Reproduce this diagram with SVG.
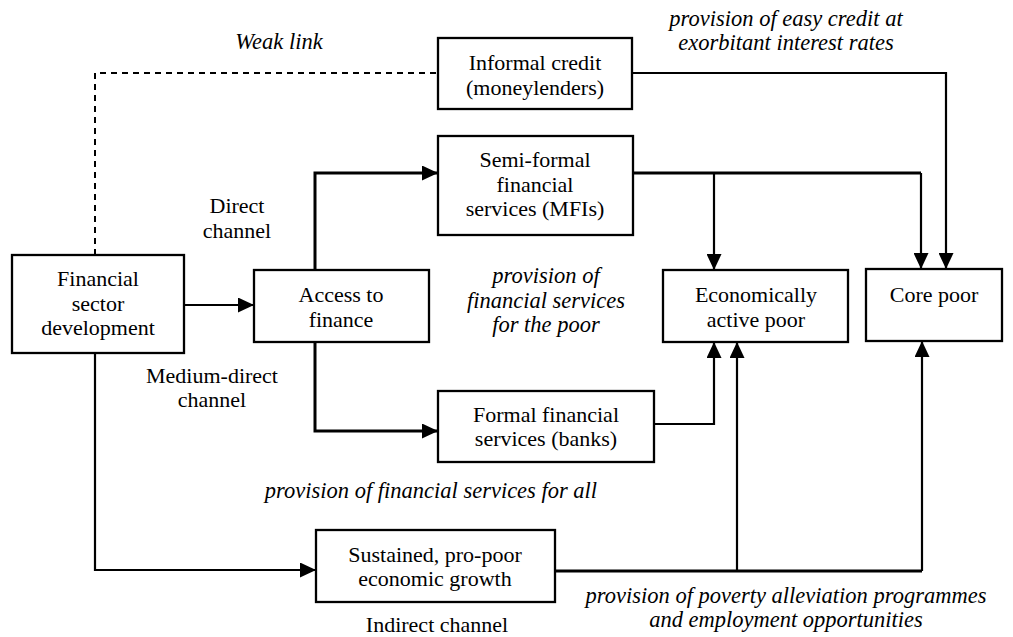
<svg xmlns="http://www.w3.org/2000/svg" width="1013" height="637" viewBox="0 0 1013 637">
  <defs>
    <style>
      .box { fill: #ffffff; stroke: #000000; stroke-width: 2.3; }
      .lbl { font-size: 22px; fill: #000000; text-anchor: middle; }
      .note { font-size: 22.5px; font-style: italic; fill: #000000; text-anchor: middle; }
      .wire { fill: none; stroke: #000000; stroke-width: 2.2; }
      .heavy { stroke-width: 3; }
      .dash { stroke-dasharray: 6 5; stroke-width: 2; }
    </style>
    <marker id="arrow" markerUnits="userSpaceOnUse" markerWidth="16" markerHeight="15" refX="16" refY="7.5" orient="auto">
      <path d="M0,0 L16,7.5 L0,15 z" fill="#000000"/>
    </marker>
  </defs>

  <rect width="1013" height="637" fill="#ffffff"/>

  <!-- connectors -->
  <g id="connectors">
    <path class="wire dash" d="M95,255 V73 H438"/>
    <path class="wire" d="M184,305 H254" marker-end="url(#arrow)"/>
    <path class="wire heavy" d="M315,270 V173 H438" marker-end="url(#arrow)"/>
    <path class="wire heavy" d="M315,342 V431 H438" marker-end="url(#arrow)"/>
    <path class="wire" d="M95,353 V570 H316" marker-end="url(#arrow)"/>
    <path class="wire" d="M632,73 H946 V269" marker-end="url(#arrow)"/>
    <path class="wire heavy" d="M633,173 H921"/>
    <path class="wire" d="M921,173 V269" marker-end="url(#arrow)"/>
    <path class="wire" d="M714,173 V270" marker-end="url(#arrow)"/>
    <path class="wire" d="M654,424 H714 V342" marker-end="url(#arrow)"/>
    <path class="wire heavy" d="M555,571 H922"/>
    <path class="wire" d="M922,571 V341" marker-end="url(#arrow)"/>
    <path class="wire" d="M737,571 V342" marker-end="url(#arrow)"/>
  </g>

  <g font-family="Liberation Serif, Tinos, Times New Roman, DejaVu Serif, Noto Serif, serif">
  <!-- nodes -->
  <g id="financial-sector">
    <rect class="box" x="12" y="255" width="172" height="98"/>
    <text class="lbl" x="98" y="286">Financial</text>
    <text class="lbl" x="98" y="311">sector</text>
    <text class="lbl" x="98" y="335">development</text>
  </g>

  <g id="access-finance">
    <rect class="box" x="254" y="270" width="175" height="72"/>
    <text class="lbl" x="341" y="302">Access to</text>
    <text class="lbl" x="341" y="327">finance</text>
  </g>

  <g id="informal-credit">
    <rect class="box" x="438" y="38" width="194" height="71"/>
    <text class="lbl" x="535" y="70">Informal credit</text>
    <text class="lbl" x="535" y="95">(moneylenders)</text>
  </g>

  <g id="semi-formal">
    <rect class="box" x="438" y="136" width="195" height="99"/>
    <text class="lbl" x="535" y="167">Semi-formal</text>
    <text class="lbl" x="535" y="192">financial</text>
    <text class="lbl" x="535" y="216">services (MFIs)</text>
  </g>

  <g id="formal-services">
    <rect class="box" x="438" y="391" width="216" height="71"/>
    <text class="lbl" x="546" y="422">Formal financial</text>
    <text class="lbl" x="546" y="446">services (banks)</text>
  </g>

  <g id="pro-poor-growth">
    <rect class="box" x="316" y="530" width="239" height="72"/>
    <text class="lbl" x="435" y="562">Sustained, pro-poor</text>
    <text class="lbl" x="435" y="586">economic growth</text>
  </g>

  <g id="active-poor">
    <rect class="box" x="663" y="270" width="185" height="72"/>
    <text class="lbl" x="756" y="302">Economically</text>
    <text class="lbl" x="756" y="327">active poor</text>
  </g>

  <g id="core-poor">
    <rect class="box" x="866" y="269" width="136" height="72"/>
    <text class="lbl" x="934" y="302">Core poor</text>
  </g>

  <!-- channel and provision labels -->
  <g id="labels">
    <text class="note" x="279" y="49">Weak link</text>
    <text class="note" x="786" y="26">provision of easy credit at</text>
    <text class="note" x="786" y="50">exorbitant interest rates</text>
    <text class="lbl" x="237" y="213">Direct</text>
    <text class="lbl" x="237" y="238">channel</text>
    <text class="lbl" x="212" y="383">Medium-direct</text>
    <text class="lbl" x="212" y="407">channel</text>
    <text class="note" x="546" y="283">provision of</text>
    <text class="note" x="546" y="308">financial services</text>
    <text class="note" x="546" y="332">for the poor</text>
    <text class="note" x="431" y="498">provision of financial services for all</text>
    <text class="lbl" x="437" y="632">Indirect channel</text>
    <text class="note" x="786" y="603">provision of poverty alleviation programmes</text>
    <text class="note" x="786" y="627">and employment opportunities</text>
  </g>
  </g>
</svg>
